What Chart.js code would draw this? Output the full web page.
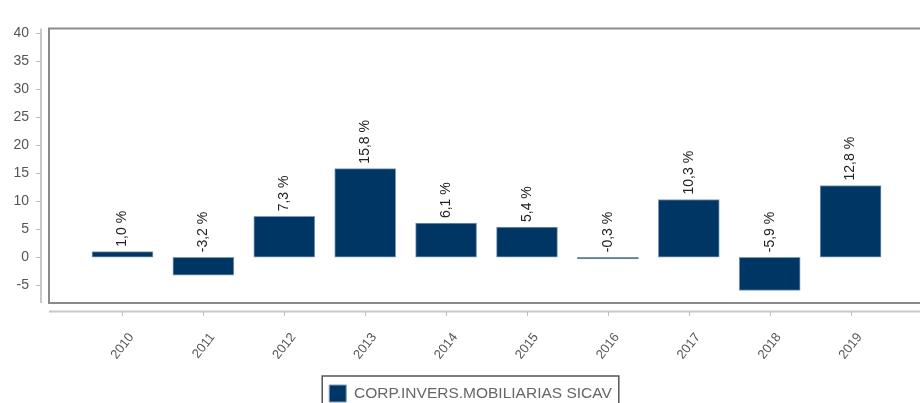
<!DOCTYPE html>
<html>
<head>
<meta charset="utf-8">
<script src="https://cdn.jsdelivr.net/npm/chart.js@4/dist/chart.umd.min.js"></script>
<style>
    html, body {margin: 0; padding: 0; background: #fff; overflow: hidden;}
    #wrap {width: 920px; height: 412px; position: relative;}
</style>
</head>
<body>
<div id="wrap"><canvas id="returns_canvas"></canvas></div>
<script>
const years = [2010, 2011, 2012, 2013, 2014, 2015, 2016, 2017, 2018, 2019];
const returns = [1.0, -3.2, 7.3, 15.8, 6.1, 5.4, -0.3, 10.3, -5.9, 12.8];
const y_ticks = [-5, 0, 5, 10, 15, 20, 25, 30, 35, 40];
const series_name = "CORP.INVERS.MOBILIARIAS SICAV";

const font_family = "'Liberation Sans', Arial, sans-serif";

function format_percent(v) {
    return v.toFixed(1).replace(".", ",") + " %";
}

// box round the plot, the detached axis lines and their little ticks
const frame_plugin = {
    id: "frame",
    beforeDatasetsDraw(chart) {
        const {ctx, chartArea, scales} = chart;
        const far_right = chart.width + 20;
        ctx.save();

        ctx.strokeStyle = "#c8c8c8";
        ctx.lineWidth = 2;
        ctx.beginPath();
        ctx.moveTo(chartArea.left - 8, chartArea.top);
        ctx.lineTo(chartArea.left - 8, chartArea.bottom);
        ctx.moveTo(chartArea.left, chartArea.bottom + 8.5);
        ctx.lineTo(far_right, chartArea.bottom + 8.5);
        ctx.stroke();

        ctx.lineWidth = 1;
        ctx.strokeStyle = "#bdbdbd";
        ctx.beginPath();
        for (const t of scales.y.ticks) {
            const py = Math.round(scales.y.getPixelForValue(t.value)) + 0.5;
            ctx.moveTo(chartArea.left - 13, py);
            ctx.lineTo(chartArea.left - 8, py);
        }
        for (const t of scales.x.ticks) {
            const px = Math.round(scales.x.getPixelForValue(t.value)) + 0.5;
            ctx.moveTo(px, chartArea.bottom + 9);
            ctx.lineTo(px, chartArea.bottom + 13);
        }
        ctx.stroke();

        // the right side of the box runs off the canvas in the original, so no right edge
        ctx.strokeStyle = "#8a8a8a";
        ctx.lineWidth = 2;
        ctx.beginPath();
        ctx.moveTo(far_right, chartArea.top);
        ctx.lineTo(chartArea.left, chartArea.top);
        ctx.lineTo(chartArea.left, chartArea.bottom);
        ctx.lineTo(far_right, chartArea.bottom);
        ctx.stroke();
        ctx.restore();
    },
    afterDraw(chart) {
        const legend = chart.legend;
        if (!legend || !legend.legendHitBoxes || !legend.legendHitBoxes.length) {return;}
        const hb = legend.legendHitBoxes[0];
        const ctx = chart.ctx;
        ctx.save();
        ctx.strokeStyle = "#555";
        ctx.lineWidth = 1.5;
        ctx.strokeRect(hb.left - 7, hb.top - 9, hb.width + 14, 60);
        ctx.restore();
    }
};

// vertical value labels above the bars (or above zero for negative ones)
const value_label_plugin = {
    id: "value_labels",
    afterDatasetsDraw(chart) {
        const ctx = chart.ctx;
        const meta = chart.getDatasetMeta(0);
        const zero = chart.scales.y.getPixelForValue(0);
        ctx.save();
        ctx.font = "14px " + font_family;
        ctx.fillStyle = "#222";
        ctx.textAlign = "left";
        ctx.textBaseline = "middle";
        meta.data.forEach(function(bar, i) {
            const top = Math.min(bar.y, zero);
            ctx.save();
            ctx.translate(bar.x, top - 5);
            ctx.rotate(-Math.PI / 2);
            ctx.fillText(format_percent(returns[i]), 0, 0);
            ctx.restore();
        });
        ctx.restore();
    }
};

let returns_plot;

function setup_returns_plot() {
    let data = {
        datasets: [{
            label: series_name,
            data: years.map((year, i) => ({x: year, y: returns[i]})),
            backgroundColor: "#003663",
            borderColor: "#7f9aba",
            borderWidth: 1,
            borderSkipped: false,
            barThickness: 61
        }]
    };

    let config = {
        type: 'bar',
        data: data,
        options: {
            responsive: true,
            maintainAspectRatio: false,
            animation: false,
            layout: {
                // negative right padding only moves the legend centre a little to the right
                padding: {left: 0, right: -21, top: 18, bottom: 0}
            },
            plugins: {
                legend: {
                    position: "bottom",
                    labels: {
                        boxWidth: 17,
                        boxHeight: 17,
                        padding: 10,
                        color: "#666",
                        font: {family: font_family, size: 15.5}
                    }
                },
                tooltip: {enabled: false}
            },
            scales: {
                x: {
                    type: "linear",
                    offset: false,
                    min: 2009.0915,
                    max: 2019.858,
                    afterBuildTicks: function(scale) {
                        scale.ticks = years.map(v => ({value: v}));
                    },
                    afterFit: function(scale) {scale.height = 72;},
                    grid: {display: false, drawTicks: false},
                    border: {display: false},
                    ticks: {
                        stepSize: 1,
                        includeBounds: false,
                        minRotation: 52,
                        maxRotation: 52,
                        padding: 27,
                        labelOffset: 9,
                        color: "#555",
                        font: {family: font_family, size: 13},
                        callback: function(value) {return String(value);}
                    }
                },
                y: {
                    min: -8.15,
                    max: 40.8,
                    afterBuildTicks: function(scale) {
                        scale.ticks = y_ticks.map(v => ({value: v}));
                    },
                    afterFit: function(scale) {scale.width = 49;},
                    grid: {display: false, drawTicks: false},
                    border: {display: false},
                    ticks: {
                        includeBounds: false,
                        padding: 20,
                        color: "#555",
                        font: {family: font_family, size: 14}
                    }
                }
            }
        },
        plugins: [frame_plugin, value_label_plugin]
    };

    returns_plot = new Chart(
        document.getElementById('returns_canvas'),
        config
    );
}

setup_returns_plot();
</script>
</body>
</html>
